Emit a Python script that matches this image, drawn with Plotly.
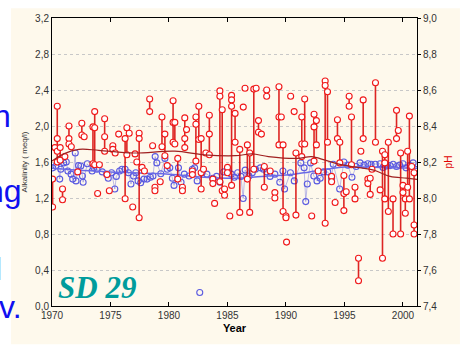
import plotly.graph_objects as go

# ---------------- data ----------------
# pH (right axis): sampling dates (decimal years) and values; equal dates are joined vertically
ph_years = [
    1970.05, 1970.05, 1970.25, 1970.45, 1970.45, 1970.45, 1970.45, 1970.7, 1970.7, 1970.9, 1970.9,
    1971.1, 1971.45, 1971.45, 1971.45, 1971.65, 1972.2, 1972.55, 1972.55, 1972.75,
    1973.5, 1973.5, 1973.65, 1973.65, 1973.65, 1973.9, 1974.05, 1974.5, 1974.5, 1974.5,
    1974.7, 1974.9, 1975.2, 1975.2, 1975.4, 1975.7, 1976.25, 1976.25, 1976.4, 1976.4,
    1976.6, 1976.9, 1977.1, 1977.25, 1977.45, 1977.45, 1977.45, 1977.7, 1977.9,
    1978.35, 1978.35, 1978.6, 1978.8, 1978.8, 1979.25, 1979.4, 1979.4, 1979.65, 1979.65,
    1979.85, 1980.35, 1980.35, 1980.35, 1980.5, 1980.5, 1980.75, 1980.75,
    1981.15, 1981.15, 1981.35, 1981.35, 1981.35, 1981.5, 1982.0, 1982.0,
    1982.3, 1982.3, 1982.3, 1982.55, 1982.55, 1982.75, 1982.75, 1982.75, 1982.95,
    1983.15, 1983.45, 1983.45, 1983.45, 1983.75, 1983.75, 1983.9,
    1984.35, 1984.35, 1984.35, 1984.55, 1984.55, 1984.75, 1984.75, 1985.0, 1985.0, 1985.2,
    1985.35, 1985.35, 1985.35, 1985.35, 1985.65, 1985.65, 1986.05, 1986.05, 1986.35, 1986.5,
    1986.7, 1986.7, 1986.9, 1986.9, 1987.25, 1987.25, 1987.45, 1987.65, 1987.65, 1987.9,
    1988.15, 1988.15, 1988.35, 1988.35, 1988.65, 1989.05, 1989.05,
    1989.4, 1989.4, 1989.4, 1989.6, 1989.75, 1989.75, 1990.0, 1990.0, 1990.05,
    1990.4, 1990.7, 1990.85, 1990.85, 1991.35, 1991.35, 1991.35, 1991.6, 1991.6,
    1992.2, 1992.4, 1992.4, 1992.4, 1992.6, 1992.6, 1992.75,
    1993.35, 1993.35, 1993.35, 1993.55, 1993.55, 1993.9, 1993.9, 1994.2,
    1994.4, 1994.4, 1994.6, 1994.6, 1994.95, 1994.95, 1994.95, 1995.15,
    1995.4, 1995.4, 1995.6, 1995.6, 1995.9, 1995.9, 1996.2, 1996.2, 1996.4,
    1996.6, 1996.6, 1997.0, 1997.0, 1997.2, 1997.2, 1997.35, 1997.65, 1997.65,
    1998.05, 1998.25, 1998.25, 1998.45, 1998.45, 1998.45, 1998.75, 1998.75,
    1999.15, 1999.15, 1999.45, 1999.45, 1999.6, 1999.8, 1999.8, 2000.0, 2000.0,
    2000.2, 2000.2, 2000.4, 2000.4, 2000.55, 2000.55, 2000.75, 2000.95, 2000.95, 2000.95,
]
ph_values = [
    8.105, 7.95, 8.28, 8.51, 8.33, 8.26, 8.20, 8.28, 8.21, 8.05, 7.99,
    8.23, 8.40, 8.33, 8.30, 8.285, 8.145, 8.415, 8.35, 8.34,
    8.395, 8.19, 8.48, 8.39, 8.185, 8.025, 8.185, 8.44, 8.34, 8.26,
    8.13, 8.04, 8.29, 8.27, 8.25, 8.355, 8.33, 7.996, 8.39, 8.24,
    8.36, 7.95, 8.245, 8.20, 8.36, 8.33, 7.89, 8.17, 8.15,
    8.55, 8.48, 8.29, 8.06, 8.04, 8.09, 8.45, 8.285, 8.355, 8.235,
    8.18, 8.54, 8.42, 8.31, 8.42, 8.30, 8.22, 8.105,
    8.06, 8.04, 8.445, 8.33, 8.28, 8.38, 8.15, 8.13,
    8.45, 8.41, 8.205, 8.51, 8.325, 8.33, 8.14, 8.05, 8.16,
    8.25, 8.46, 8.355, 8.24, 8.105, 8.08, 7.97,
    8.595, 8.565, 8.09, 8.49, 8.04, 8.05, 8.015, 8.17, 8.14, 7.90,
    8.57, 8.545, 8.51, 8.07, 8.47, 8.31, 8.27, 7.92, 8.505, 8.61,
    8.295, 8.105, 8.25, 7.92, 8.605, 8.16, 8.61, 8.43, 8.365, 8.355,
    8.175, 8.06, 8.60, 8.565, 8.15, 8.03, 8.00,
    8.618, 8.45, 8.295, 8.45, 8.295, 7.925, 7.90, 7.89, 7.755,
    8.565, 8.48, 8.25, 7.905, 8.45, 8.30, 8.23, 8.55, 8.30,
    7.90, 8.465, 8.395, 8.205, 8.43, 8.295, 8.15,
    8.65, 8.625, 7.86, 8.59, 8.31, 8.12, 8.09, 7.975,
    8.435, 8.33, 8.31, 8.195, 8.125, 8.025, 7.93, 8.035,
    8.565, 8.51, 8.45, 8.185, 8.06, 7.995, 7.665, 7.54, 8.26,
    8.545, 8.33, 8.105, 8.08, 8.11, 8.02, 8.16, 8.64, 8.31,
    8.045, 8.26, 7.665, 8.24, 8.195, 7.995, 8.31, 7.925,
    7.995, 7.80, 8.487, 8.33, 8.375, 8.25, 7.80, 8.07, 8.03,
    7.995, 7.915, 8.26, 8.06, 8.455, 7.995, 8.175, 8.14, 7.85, 7.80,
]

# Alkalinity (left axis)
alk_years = [
    1970.06, 1970.33, 1970.53, 1970.66, 1970.75, 1971.0, 1971.22, 1971.36, 1971.63, 1971.77,
    1971.99, 1972.05, 1972.27, 1972.46, 1972.6, 1972.66, 1973.02, 1973.43, 1973.57, 1973.85,
    1974.3, 1974.67, 1974.81, 1975.09, 1975.37, 1975.5, 1975.78, 1975.98, 1976.25, 1976.53,
    1976.75, 1976.97, 1977.16, 1977.36, 1977.58, 1977.86, 1978.13, 1978.41, 1978.63, 1978.82,
    1978.96, 1979.3, 1979.65, 1979.85, 1980.07, 1980.29, 1980.43, 1980.81, 1981.03, 1981.31,
    1981.72, 1982.0, 1982.19, 1982.41, 1982.63, 1982.83, 1983.24, 1983.74, 1984.07, 1984.35,
    1984.68, 1985.04, 1985.32, 1985.59, 1985.87, 1986.15, 1986.34, 1986.51, 1986.84, 1987.12,
    1987.39, 1987.81, 1988.08, 1988.36, 1988.64, 1989.05, 1989.47, 1989.74, 1989.88, 1990.38,
    1990.71, 1991.27, 1991.55, 1991.69, 1991.82, 1992.1, 1992.38, 1992.65, 1992.93, 1993.21,
    1993.57, 1993.9, 1994.04, 1994.59, 1994.95, 1995.28, 1995.64, 1996.0, 1996.33, 1996.67,
    1997.0, 1997.27, 1997.63, 1998.05, 1998.3, 1998.6, 1998.9, 1999.16, 1999.45, 1999.71,
    2000.0, 2000.26, 2000.6, 2000.87, 2001.04,
]
alk_values = [
    1.535, 1.555, 1.60, 1.41, 1.52, 1.59, 1.60, 1.50, 1.465, 1.41,
    1.70, 1.39, 1.56, 1.555, 1.445, 1.375, 1.58, 1.50, 1.535, 1.52,
    1.49, 1.465, 1.42, 1.48, 1.30, 1.44, 1.50, 1.52, 1.52, 1.48,
    1.355, 1.445, 1.48, 1.39, 1.37, 1.41, 1.41, 1.43, 1.445, 1.66,
    1.59, 1.47, 1.64, 1.52, 1.535, 1.42, 1.34, 1.535, 1.375, 1.465,
    1.445, 1.52, 1.535, 1.39, 0.15, 1.48, 1.465, 1.42, 1.44, 1.375,
    1.49, 1.52, 1.465, 1.43, 1.48, 1.44, 1.195, 1.51, 1.445, 1.48,
    1.52, 1.535, 1.52, 1.49, 1.44, 1.465, 1.375, 1.50, 1.30, 1.48,
    1.39, 1.59, 1.535, 1.16, 1.355, 1.59, 1.445, 1.39, 1.42, 1.49,
    1.49, 1.42, 1.575, 1.30, 1.60, 1.565, 1.43, 1.55, 1.59, 1.565,
    1.58, 1.575, 1.575, 1.58, 1.54, 1.555, 1.56, 1.575, 1.55, 1.565,
    1.58, 1.535, 1.56, 1.59, 1.52,
]

# smoothed trends
ph_smooth_years = [1970.0, 1971.0, 1972.3, 1974.0, 1977.0, 1980.5, 1983.0, 1985.7, 1987.1,
                   1988.5, 1991.0, 1992.2, 1993.35, 1994.7, 1996.1, 1997.5, 1998.9, 2000.3, 2001.2]
ph_smooth_values = [8.205, 8.245, 8.27, 8.265, 8.25, 8.26, 8.24, 8.235, 8.245,
                    8.23, 8.22, 8.23, 8.21, 8.185, 8.17, 8.155, 8.12, 8.11, 8.103]
alk_smooth_years = [1970.0, 1972.0, 1975.0, 1980.0, 1983.0, 1986.0, 1988.5, 1990.5, 1992.0,
                    1993.5, 1995.0, 1998.0, 2001.2]
alk_smooth_values = [1.53, 1.51, 1.49, 1.465, 1.43, 1.42, 1.445, 1.46, 1.49,
                     1.52, 1.545, 1.54, 1.53]

x_ticks = [1970, 1975, 1980, 1985, 1990, 1995, 2000]
left_ticks = [0.0, 0.4, 0.8, 1.2, 1.6, 2.0, 2.4, 2.8, 3.2]
right_ticks = [7.4, 7.6, 7.8, 8.0, 8.2, 8.4, 8.6, 8.8, 9.0]

# ---------------- build ----------------
def fmt(v):
    return f"{v:.1f}".replace(".", ",")

# vertical connectors for same-date pH values
lx, ly = [], []
prev = None
for yr, v in zip(ph_years, ph_values):
    if prev is not None and yr != prev:
        lx.append(None); ly.append(None)
    lx.append(yr); ly.append(v)
    prev = yr

# thin alkalinity connector, broken around isolated outliers (< 1.0)
bx, by = [], []
for yr, v in zip(alk_years, alk_values):
    if v < 1.0:
        bx.append(None); by.append(None)
        continue
    bx.append(yr); by.append(v)

W, H = 464, 345
ML, MR, MT, MB = 52, 38, 17, 34
PW, PH = W - ML - MR, H - MT - MB

def px(x):
    return (x - ML) / PW

def py(y):
    return (MT + PH - y) / PH

fig = go.Figure()

# alkalinity
fig.add_trace(go.Scatter(
    x=bx, y=by, mode="lines", yaxis="y", connectgaps=False,
    line=dict(color="rgba(90,90,220,0.5)", width=0.8), hoverinfo="skip"))
fig.add_trace(go.Scatter(
    x=alk_years, y=alk_values, mode="markers", yaxis="y",
    marker=dict(symbol="circle", size=6, color="rgba(255,255,255,0)",
                line=dict(color="#5A5AE0", width=1.1))))
fig.add_trace(go.Scatter(
    x=alk_smooth_years, y=alk_smooth_values, mode="lines", yaxis="y",
    line=dict(color="#6A6AE6", width=1.5, shape="spline")))

# pH
fig.add_trace(go.Scatter(
    x=lx, y=ly, mode="lines", yaxis="y2", connectgaps=False,
    line=dict(color="rgba(215,0,0,0.85)", width=1.6), hoverinfo="skip"))
fig.add_trace(go.Scatter(
    x=ph_years, y=ph_values, mode="markers", yaxis="y2",
    marker=dict(symbol="circle", size=6, color="white",
                line=dict(color="#F01818", width=1.1))))
fig.add_trace(go.Scatter(
    x=ph_smooth_years, y=ph_smooth_values, mode="lines", yaxis="y2",
    line=dict(color="#A02020", width=1.2, shape="spline")))

tickfont = dict(family="Liberation Sans, Arial", size=10, color="#333333")

fig.update_layout(
    width=W, height=H,
    margin=dict(l=ML, r=MR, t=MT, b=MB, pad=0),
    paper_bgcolor="white", plot_bgcolor="white",
    showlegend=False,
    xaxis=dict(range=[1970, 2001.2], tickvals=x_ticks, ticktext=[str(t) for t in x_ticks],
               showgrid=False, zeroline=False, showline=True, linecolor="black", linewidth=1,
               mirror="ticks", ticks="inside", ticklen=4, tickcolor="black",
               tickfont=tickfont,
               title=dict(text="<b>Year</b>", font=dict(family="Liberation Sans, Arial", size=11, color="black"),
                          standoff=4)),
    yaxis=dict(range=[0, 3.2], tickvals=left_ticks, ticktext=[fmt(t) for t in left_ticks],
               showgrid=True, gridcolor="#C8C8C8", griddash="dot", gridwidth=1,
               zeroline=False, showline=True, linecolor="black", linewidth=1,
               ticks="", tickfont=tickfont,
               title=dict(text="Alkalinity ( meq/l)", font=dict(family="Liberation Sans, Arial", size=8, color="#333333"),
                          standoff=6)),
    yaxis2=dict(range=[7.4, 9.0], tickvals=right_ticks, ticktext=[fmt(t) for t in right_ticks],
                overlaying="y", side="right", showgrid=False, zeroline=False,
                showline=True, linecolor="black", linewidth=1,
                ticks="outside", ticklen=3, tickcolor="black", tickfont=tickfont,
                title=dict(text="pH", font=dict(family="Liberation Sans, Arial", size=10, color="#E00000"),
                           standoff=8)),
    shapes=[dict(type="rect", xref="paper", yref="paper",
                 x0=px(10), x1=px(470), y0=py(350), y1=py(7),
                 fillcolor="#FEF9EC", line=dict(width=0), layer="below")],
)

blue = "#1010F0"
slide_font = dict(family="Liberation Sans, Arial", size=32, color=blue)
for txt, rx, cy in [("n", 12, 117), ("ng", 23, 194), ("l", 3, 273), ("v.", 23, 312)]:
    fig.add_annotation(text=txt, xref="paper", yref="paper", x=px(rx), y=py(cy),
                       xanchor="right", yanchor="middle", showarrow=False, font=slide_font)

fig.add_annotation(text="<b><i>SD 29</i></b>", xref="paper", yref="paper",
                   x=px(56), y=py(292), xanchor="left", yanchor="middle", showarrow=False,
                   font=dict(family="Liberation Serif, Times New Roman", size=31, color="#009C9C"))

fig.write_html("out.html")
